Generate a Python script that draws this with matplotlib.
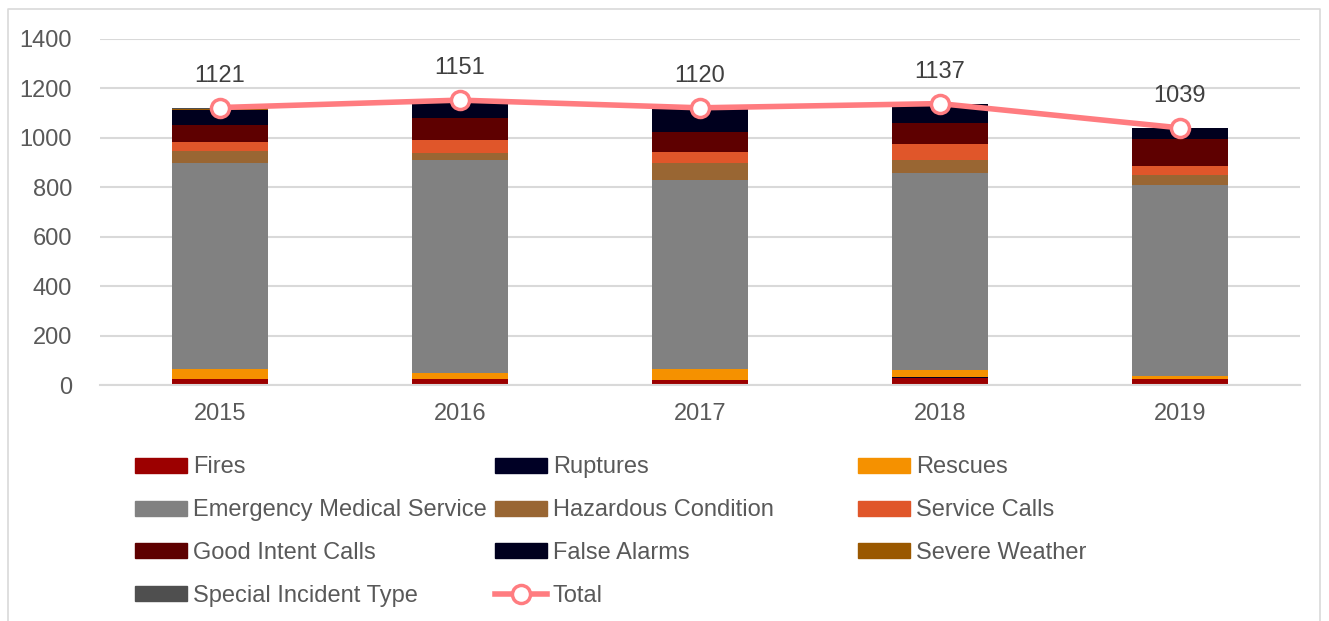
import matplotlib.pyplot as plt
import matplotlib.patches as mpatches
import matplotlib.lines as mlines
import numpy as np

plt.rcParams['font.family'] = ['Liberation Sans', 'DejaVu Sans']

years = ['2015', '2016', '2017', '2018', '2019']

# incident counts per year, bottom to top of each stack
fires = [24, 24, 21, 30, 23]
ruptures = [1, 1, 1, 1, 1]
rescues = [40, 23, 41, 30, 14]
ems = [832, 860, 767, 796, 769]
hazardous = [47, 30, 68, 51, 40]
service_calls = [38, 51, 45, 64, 38]
good_intent = [67, 89, 81, 88, 109]
false_alarms = [61, 70, 93, 75, 43]
severe_weather = [6, 2, 2, 0, 2]
special_incident = [5, 1, 1, 2, 0]
totals = [1121, 1151, 1120, 1137, 1039]

series = [
    ('Fires', fires, '#9C0000'),
    ('Ruptures', ruptures, '#000025'),
    ('Rescues', rescues, '#F59100'),
    ('Emergency Medical Service', ems, '#818181'),
    ('Hazardous Condition', hazardous, '#996633'),
    ('Service Calls', service_calls, '#E0562A'),
    ('Good Intent Calls', good_intent, '#5E0000'),
    ('False Alarms', false_alarms, '#00001E'),
    ('Severe Weather', severe_weather, '#9A5800'),
    ('Special Incident Type', special_incident, '#4F4F4F'),
]

TXT = '#595959'
LINE = '#FF7C80'
FS = 17

fig = plt.figure(figsize=(13.29, 6.21), dpi=100)
ax = fig.add_axes([0.0752, 0.380, 0.9028, 0.558])

x = np.arange(len(years))
bottom = np.zeros(len(years))
handles = {}
for name, vals, col in series:
    b = ax.bar(x, vals, 0.4, bottom=bottom, color=col, zorder=2)
    bottom += np.array(vals)
    handles[name] = mpatches.Patch(color=col)

ln, = ax.plot(x, totals, color=LINE, lw=4, marker='o', ms=13,
              mfc='white', mec=LINE, mew=2.5, zorder=4)
for xi, t in zip(x, totals):
    ax.annotate(str(t), (xi, t), xytext=(0, 23), textcoords='offset points',
                ha='center', va='center', fontsize=FS, color='#404040')

ax.set_xlim(-0.5, 4.5)
ax.set_ylim(0, 1400)
ax.set_yticks(np.arange(0, 1401, 200))
ax.set_xticks(x)
ax.set_xticklabels(years)
ax.grid(axis='y', color='#D9D9D9', lw=1.5, zorder=0)
ax.tick_params(axis='y', length=0, pad=20, labelsize=FS, labelcolor=TXT)
ax.tick_params(axis='x', length=0, pad=13, labelsize=FS, labelcolor=TXT)
for s in ['top', 'right', 'left']:
    ax.spines[s].set_visible(False)
ax.spines['bottom'].set_color('#D9D9D9')
ax.spines['bottom'].set_linewidth(1.5)

handles['Total'] = mlines.Line2D([], [], color=LINE, lw=4, marker='o', ms=13,
                                 mfc='white', mec=LINE, mew=2.5)

columns = [
    ['Fires', 'Emergency Medical Service', 'Good Intent Calls', 'Special Incident Type'],
    ['Ruptures', 'Hazardous Condition', 'False Alarms', 'Total'],
    ['Rescues', 'Service Calls', 'Severe Weather'],
]
col_x = [0.1015, 0.3725, 0.6455]
for cx, names in zip(col_x, columns):
    fig.legend([handles[n] for n in names], names, loc='upper left',
               bbox_to_anchor=(cx, 0.265), frameon=False, fontsize=FS,
               labelcolor=TXT, handlelength=2.2, handleheight=0.6,
               handletextpad=0.25, labelspacing=0.885, borderpad=0, borderaxespad=0)

# outer chart border
fig.add_artist(mlines.Line2D([0.006, 0.006, 0.993, 0.993], [0.0, 0.986, 0.986, 0.0],
                             color='#D9D9D9', lw=1.2, transform=fig.transFigure))

fig.savefig('out.png', dpi=100)
